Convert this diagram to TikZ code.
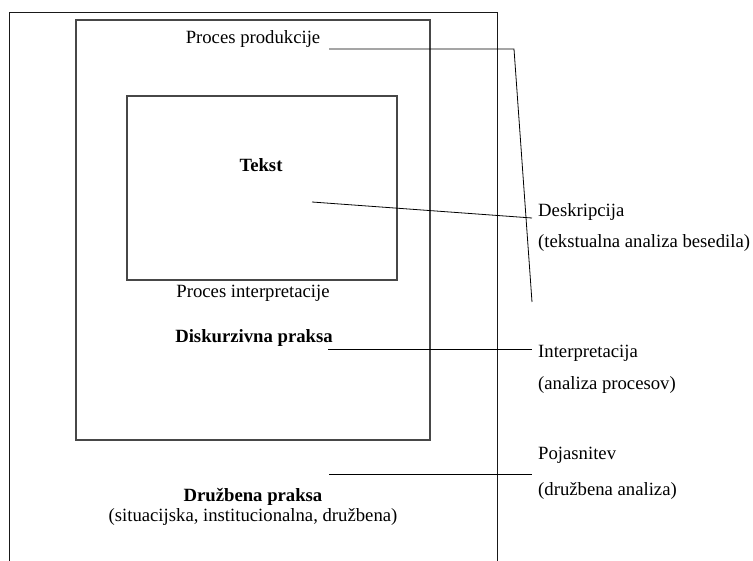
\documentclass[tikz,border=0pt]{standalone}
\usepackage{fontspec}
\setmainfont{Liberation Serif}
\begin{document}
\begin{tikzpicture}[x=1pt,y=-1pt,
  lbl/.style={inner sep=0pt, anchor=base, font=\fontsize{18.7}{22}\selectfont},
  lblb/.style={inner sep=0pt, anchor=base, font=\fontsize{18.7}{22}\selectfont\bfseries},
  side/.style={lbl, anchor=base west},
  frame/.style={draw=black!72, line width=1.1pt},
  outerframe/.style={draw=black!90, line width=0.9pt},
  link/.style={draw=black, line width=0.8pt}]
\useasboundingbox (0,0) rectangle (753,561);

% frames
\draw[outerframe] (9,561) -- (9,12) -- (497,12) -- (497,561);
\draw[frame] (76,20) rectangle (430,440);
\draw[frame] (127,96) rectangle (397,280);

% centre texts
\node[lbl]  (prod)   at (253,44)  {Proces produkcije};
\node[lblb] (tekst)  at (261,172) {Tekst};
\node[lbl]  (interp) at (253,298) {Proces interpretacije};
\node[lblb] (disk)   at (254,343) {Diskurzivna praksa};
\node[lblb] (druz)   at (253,501) {Družbena praksa};
\node[lbl]  (druzb)  at (253,521) {(situacijska, institucionalna, družbena)};

% side texts
\node[side] (desk)  at (538,217) {Deskripcija};
\node[side] (deskb) at (538,248) {(tekstualna analiza besedila)};
\node[side] (intp)  at (538,358) {Interpretacija};
\node[side] (intpb) at (538,390) {(analiza procesov)};
\node[side] (poj)   at (538,460) {Pojasnitev};
\node[side] (pojb)  at (538,495) {(družbena analiza)};

% connector end points
\coordinate (p1) at (329,49);
\coordinate (p2) at (514,49);
\coordinate (p3) at (532,302);
\coordinate (t1) at (312,202);
\coordinate (t2) at (532,218);
\coordinate (d1) at (328,349);
\coordinate (d2) at (532,349);
\coordinate (s1) at (329,474);
\coordinate (s2) at (532,474);

% connectors
\draw[link] (p1) -- (p2) -- (p3);
\draw[link] (t1) -- (t2);
\draw[link] (d1) -- (d2);
\draw[link] (s1) -- (s2);
\end{tikzpicture}
\end{document}
